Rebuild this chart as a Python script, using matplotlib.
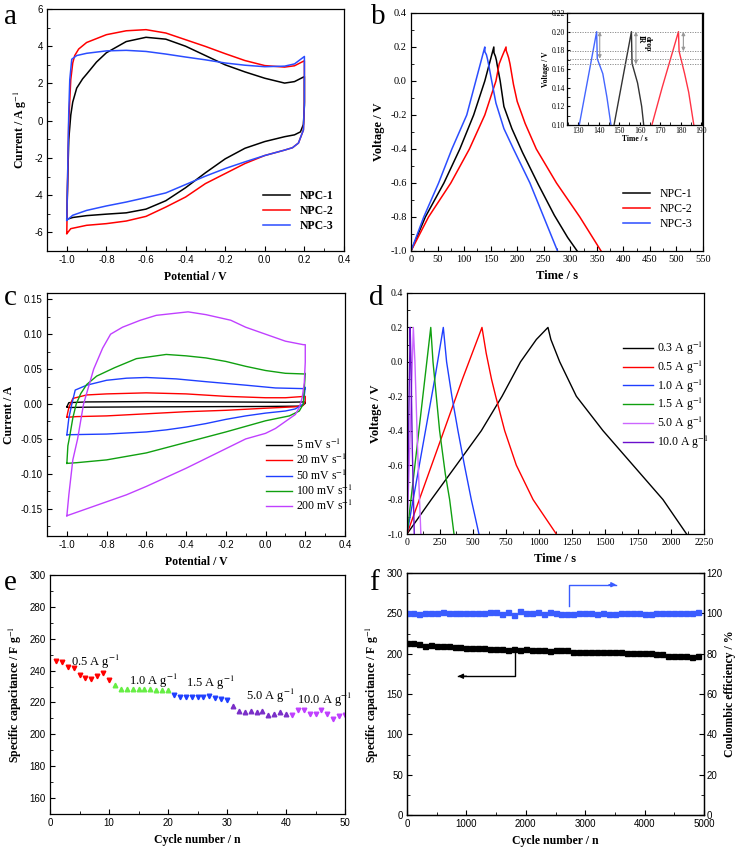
import matplotlib
matplotlib.use("Agg")
import matplotlib.pyplot as plt
from matplotlib.ticker import MultipleLocator, FormatStrFormatter

SERIF = "Liberation Serif"
SANS = "Liberation Sans"

# ---------------- a: CV of NPC-1/2/3 ----------------
npc1_E = [-1.0, -0.995, -0.99, -0.98, -0.97, -0.95, -0.92, -0.9, -0.85, -0.8, -0.7, -0.6, -0.5, -0.4,
          -0.3, -0.2, -0.1, 0.0, 0.1, 0.15, 0.2,
          0.2, 0.195, 0.18, 0.15, 0.1, 0.0, -0.1, -0.2, -0.3, -0.4, -0.5, -0.6, -0.7, -0.8, -0.9, -0.97, -1.0]
npc1_I = [-5.3, -3.0, -1.0, 0.3, 1.0, 1.75, 2.25, 2.5, 3.15, 3.65, 4.25, 4.48, 4.38, 4.0,
          3.5, 3.0, 2.62, 2.28, 2.02, 2.1, 2.37,
          0.8, -0.2, -0.6, -0.76, -0.86, -1.12, -1.48, -2.05, -2.8, -3.6, -4.3, -4.75, -4.95, -5.02, -5.1, -5.2, -5.3]
npc2_E = [-1.0, -0.998, -0.995, -0.99, -0.98, -0.97, -0.96, -0.94, -0.9, -0.8, -0.7, -0.6, -0.5, -0.4,
          -0.3, -0.2, -0.1, 0.0, 0.1, 0.15, 0.2,
          0.2, 0.195, 0.17, 0.14, 0.1, 0.0, -0.1, -0.2, -0.3, -0.4, -0.5, -0.6, -0.7, -0.8, -0.9, -0.98, -1.0]
npc2_I = [-6.05, -4.5, -2.5, 0.0, 2.2, 3.1, 3.5, 3.85, 4.2, 4.62, 4.83, 4.89, 4.71, 4.35,
          3.99, 3.6, 3.23, 2.96, 2.88, 2.95, 3.22,
          1.0, -0.5, -1.2, -1.45, -1.58, -1.87, -2.3, -2.84, -3.38, -4.1, -4.64, -5.14, -5.39, -5.53, -5.62, -5.8, -6.07]
npc3_E = [-1.0, -0.995, -0.99, -0.985, -0.975, -0.95, -0.9, -0.8, -0.7, -0.6, -0.5, -0.4,
          -0.3, -0.2, -0.1, 0.0, 0.1, 0.15, 0.2,
          0.2, 0.195, 0.17, 0.14, 0.1, 0.0, -0.1, -0.2, -0.3, -0.4, -0.5, -0.6, -0.7, -0.8, -0.9, -0.97, -1.0]
npc3_I = [-5.35, -2.5, 0.5, 2.2, 3.3, 3.5, 3.62, 3.75, 3.78, 3.72, 3.58, 3.42,
          3.27, 3.1, 2.98, 2.9, 2.93, 3.05, 3.45,
          1.0, -0.5, -1.2, -1.45, -1.58, -1.87, -2.21, -2.57, -2.98, -3.43, -3.88, -4.13, -4.37, -4.58, -4.82, -5.08, -5.35]

# ---------------- b: GCD of NPC-1/2/3 ----------------
npc1_t = [0, 27, 62, 92, 118, 139, 147.5, 156, 156.3, 159, 161, 162, 168, 175, 190, 210, 240, 270, 295, 313]
npc1_V = [-1.0, -0.8, -0.6, -0.4, -0.2, 0.0, 0.1, 0.2, 0.166, 0.145, 0.12, 0.10, 0.0, -0.15, -0.28, -0.42, -0.61, -0.79, -0.92, -1.0]
npc2_t = [0, 33, 75, 110, 139, 160, 166, 171, 179, 179.3, 182, 184, 186.5, 193, 200, 215, 236, 274, 318, 358]
npc2_V = [-1.0, -0.8, -0.6, -0.4, -0.2, 0.0, 0.1, 0.14, 0.2, 0.179, 0.155, 0.135, 0.10, -0.02, -0.12, -0.25, -0.4, -0.6, -0.8, -1.0]
npc3_t = [0, 24, 52, 77, 105, 122, 130.5, 139, 139.3, 142, 144, 146, 152, 160, 175, 193, 224, 250, 276]
npc3_V = [-1.0, -0.8, -0.6, -0.4, -0.2, 0.0, 0.1, 0.2, 0.171, 0.155, 0.13, 0.10, 0.0, -0.13, -0.28, -0.4, -0.6, -0.8, -1.0]
ir_levels = [0.20, 0.179, 0.171, 0.165]

# ---------------- c: CV at different scan rates ----------------
c_labels = ["5 mV s$^{-1}$", "20 mV s$^{-1}$", "50 mV s$^{-1}$", "100 mV s$^{-1}$", "200 mV s$^{-1}$"]
s5_E = [-1.0, -0.99, -0.9, -0.6, -0.2, 0.1, 0.2, 0.2, 0.18, 0.0, -0.5, -0.9, -0.99, -1.0]
s5_I = [-0.004, 0.002, 0.003, 0.0035, 0.003, 0.0025, 0.003, 0.001, -0.003, -0.0035, -0.004, -0.0045, -0.005, -0.004]
s20_E = [-1.0, -0.99, -0.97, -0.9, -0.8, -0.6, -0.4, -0.2, 0.0, 0.1, 0.2,
         0.2, 0.19, 0.15, 0.0, -0.2, -0.4, -0.6, -0.8, -0.95, -1.0]
s20_I = [-0.018, -0.005, 0.008, 0.013, 0.0145, 0.016, 0.0145, 0.011, 0.009, 0.009, 0.011,
         0.004, -0.002, -0.004, -0.006, -0.009, -0.011, -0.014, -0.017, -0.018, -0.019]
s50_E = [-1.0, -0.99, -0.975, -0.958, -0.9, -0.8, -0.7, -0.6, -0.45, -0.3, -0.1, 0.05, 0.2,
         0.2, 0.19, 0.15, 0.1, 0.0, -0.1, -0.2, -0.3, -0.4, -0.5, -0.6, -0.8, -1.0]
s50_I = [-0.044, -0.02, 0.0, 0.02, 0.027, 0.034, 0.037, 0.038, 0.036, 0.032, 0.027, 0.023, 0.022,
         0.024, 0.0, -0.007, -0.01, -0.013, -0.017, -0.022, -0.028, -0.033, -0.037, -0.04, -0.043, -0.044]
s100_E = [-1.0, -0.995, -0.985, -0.97, -0.953, -0.93, -0.9, -0.85, -0.76, -0.65, -0.5, -0.4, -0.3, -0.2, -0.1,
          0.0, 0.1, 0.2, 0.2, 0.19, 0.17, 0.12, 0.0, -0.2, -0.4, -0.6, -0.8, -0.95, -1.0]
s100_I = [-0.085, -0.06, -0.045, -0.02, 0.0, 0.015, 0.028, 0.04, 0.052, 0.065, 0.071, 0.069, 0.066, 0.061, 0.054,
          0.048, 0.044, 0.043, 0.044, 0.0, -0.01, -0.017, -0.024, -0.040, -0.055, -0.07, -0.08, -0.084, -0.085]
s200_E = [-1.0, -0.99, -0.98, -0.97, -0.946, -0.916, -0.865, -0.82, -0.78, -0.72, -0.63, -0.55, -0.39, -0.3,
          -0.175, -0.1, 0.0, 0.1, 0.19, 0.2,
          0.2, 0.195, 0.185, 0.17, 0.15, 0.1, 0.05, 0.0, -0.1, -0.2, -0.3, -0.4, -0.5, -0.6, -0.7, -0.8, -0.9, -0.97, -1.0]
s200_I = [-0.16, -0.13, -0.105, -0.08, -0.05, 0.0, 0.05, 0.08, 0.1, 0.11, 0.12, 0.127, 0.132, 0.128,
          0.12, 0.11, 0.1, 0.09, 0.085, 0.085,
          0.06, 0.03, 0.01, -0.005, -0.015, -0.025, -0.035, -0.042, -0.05, -0.064, -0.078, -0.092, -0.105, -0.118,
          -0.13, -0.14, -0.15, -0.157, -0.16]

# ---------------- d: GCD at different current densities ----------------
d_labels = ["0.3 A g$^{-1}$", "0.5 A g$^{-1}$", "1.0 A g$^{-1}$", "1.5 A g$^{-1}$", "5.0 A g$^{-1}$", "10.0 A g$^{-1}$"]
j03_t = [0, 184, 374, 563, 720, 860, 980, 1068, 1090, 1157, 1283, 1485, 1712, 1939, 2118]
j03_V = [-1.0, -0.8, -0.6, -0.4, -0.2, 0.0, 0.13, 0.2, 0.13, 0.0, -0.2, -0.4, -0.6, -0.8, -1.0]
j05_t = [0, 140, 280, 420, 568, 600, 640, 672, 740, 828, 955, 1131]
j05_V = [-1.0, -0.7, -0.4, -0.1, 0.2, 0.05, -0.1, -0.2, -0.4, -0.6, -0.8, -1.0]
j10_t = [0, 70, 140, 210, 275, 300, 340, 386, 435, 487, 545]
j10_V = [-1.0, -0.7, -0.4, -0.1, 0.2, 0.0, -0.2, -0.4, -0.6, -0.8, -1.0]
j15_t = [0, 45, 90, 135, 180, 197, 247, 290, 323, 356]
j15_V = [-1.0, -0.7, -0.4, -0.1, 0.2, 0.0, -0.4, -0.65, -0.8, -1.0]
j50_t = [0, 25, 48, 60, 80, 105]
j50_V = [-1.0, -0.4, 0.2, 0.0, -0.5, -1.0]
j100_t = [0, 12, 24, 30, 40, 55]
j100_V = [-1.0, -0.4, 0.2, 0.0, -0.5, -1.0]

# ---------------- e: rate capability ----------------
e_cycle_05 = [1, 2, 3, 4, 5, 6, 7, 8, 9, 10]
e_cap_05 = [246.2, 245.2, 242.1, 241.7, 237.5, 235.2, 234.8, 236.7, 238.6, 234.3]
e_cycle_10 = [11, 12, 13, 14, 15, 16, 17, 18, 19, 20]
e_cap_10 = [230.7, 228.6, 228.2, 228.2, 228.2, 228.2, 228.2, 227.8, 227.8, 227.8]
e_cycle_15 = [21, 22, 23, 24, 25, 26, 27, 28, 29, 30]
e_cap_15 = [224.5, 223.7, 223.5, 223.5, 223.5, 223.5, 223.9, 222.8, 222.4, 221.6]
e_cycle_50 = [31, 32, 33, 34, 35, 36, 37, 38, 39, 40]
e_cap_50 = [217.6, 214.5, 213.9, 214.5, 214.1, 214.5, 211.9, 212.7, 213.9, 212.9]
e_cycle_100 = [41, 42, 43, 44, 45, 46, 47, 48, 49, 50]
e_cap_100 = [212.3, 215.0, 215.0, 212.5, 212.5, 215.0, 212.7, 209.8, 211.3, 212.1]

# ---------------- f: cycling stability ----------------
f_cycle = [1, 100, 200, 300, 400, 500, 600, 700, 800, 900, 1000, 1100, 1200, 1300, 1400, 1500, 1600, 1700,
           1800, 1900, 2000, 2100, 2200, 2300, 2400, 2500, 2600, 2700, 2800, 2900, 3000, 3100, 3200, 3300,
           3400, 3500, 3600, 3700, 3800, 3900, 4000, 4100, 4200, 4300, 4400, 4500, 4600, 4700, 4800, 4900]
f_capacitance = [213.5, 213.0, 211.5, 210.0, 210.5, 210.0, 210.0, 209.0, 208.0, 208.5, 207.0, 207.0, 206.5,
                 207.0, 206.0, 206.0, 206.0, 205.0, 205.5, 204.0, 206.0, 205.0, 204.5, 204.5, 203.0, 204.0,
                 204.0, 204.0, 202.5, 202.5, 202.5, 202.5, 202.5, 202.5, 202.0, 201.5, 202.0, 201.0, 201.0,
                 200.5, 200.5, 200.5, 199.5, 199.5, 197.5, 197.0, 197.0, 197.0, 195.5, 196.5]
f_efficiency = [100.3, 100.2, 99.6, 100.0, 100.0, 100.0, 100.5, 100.0, 100.2, 100.2, 100.0, 100.0, 100.4,
                100.4, 100.5, 100.6, 99.5, 100.5, 99.3, 101.0, 100.0, 100.0, 100.5, 99.6, 100.8, 100.2,
                99.8, 99.7, 99.6, 100.2, 100.2, 100.1, 99.6, 100.4, 99.6, 99.7, 100.4, 100.4, 100.0, 100.0,
                99.9, 99.9, 100.4, 100.4, 100.3, 100.2, 100.2, 100.2, 100.1, 100.7]

plt.rcParams["mathtext.fontset"] = "stix"
plt.rcParams["axes.unicode_minus"] = False
plt.rcParams["xtick.direction"] = "in"
plt.rcParams["ytick.direction"] = "in"
plt.rcParams["xtick.major.size"] = 3.5
plt.rcParams["ytick.major.size"] = 3.5
plt.rcParams["xtick.minor.size"] = 2
plt.rcParams["ytick.minor.size"] = 2
plt.rcParams["axes.linewidth"] = 0.9

W, H = 738, 850
fig = plt.figure(figsize=(W / 100, H / 100), dpi=100)


def box(l, t, r, b):
    return [l / W, 1 - b / H, (r - l) / W, (b - t) / H]


def style(ax, xmaj, xmin, ymaj, ymin, tickfont, size=7):
    ax.xaxis.set_major_locator(MultipleLocator(xmaj))
    ax.xaxis.set_minor_locator(MultipleLocator(xmin))
    ax.yaxis.set_major_locator(MultipleLocator(ymaj))
    ax.yaxis.set_minor_locator(MultipleLocator(ymin))
    for lab in ax.get_xticklabels() + ax.get_yticklabels():
        lab.set_fontfamily(tickfont)
        lab.set_fontsize(size)
    ax.tick_params(axis="both", which="both", pad=3)


def xylabels(ax, xl, yl, size=8.5):
    ax.set_xlabel(xl, fontfamily=SERIF, fontweight="bold", fontsize=size)
    ax.set_ylabel(yl, fontfamily=SERIF, fontweight="bold", fontsize=size)


def letter(x, y, s):
    fig.text(x / W, 1 - y / H, s, fontfamily=SERIF, fontsize=21, va="top", ha="left")


# ---- a
ax = fig.add_axes(box(47, 9, 344, 251))
ax.plot(npc1_E, npc1_I, color="black", lw=1.1, label="NPC-1")
ax.plot(npc2_E, npc2_I, color="#ff0000", lw=1.1, label="NPC-2")
ax.plot(npc3_E, npc3_I, color="#2b4dff", lw=1.1, label="NPC-3")
ax.set_xlim(-1.1, 0.4)
ax.set_ylim(-7, 6)
style(ax, 0.2, 0.1, 2, 1, SANS)
ax.xaxis.set_major_formatter(FormatStrFormatter("%.1f"))
xylabels(ax, "Potential / V", "Current / A g$^{-1}$")
ax.legend(loc="lower right", bbox_to_anchor=(1.0, 0.035), frameon=False, handlelength=2.3,
          labelspacing=0.25, prop={"family": SERIF, "weight": "bold", "size": 8.5})
letter(4, 4, "a")

# ---- b
ax = fig.add_axes(box(411, 13, 703, 251))
ax.plot(npc1_t, npc1_V, color="black", lw=1.1, label="NPC-1")
ax.plot(npc2_t, npc2_V, color="#ff0000", lw=1.1, label="NPC-2")
ax.plot(npc3_t, npc3_V, color="#2b4dff", lw=1.1, label="NPC-3")
ax.set_xlim(0, 550)
ax.set_ylim(-1.0, 0.4)
style(ax, 50, 25, 0.2, 0.1, SERIF, 7.5)
ax.yaxis.set_major_formatter(FormatStrFormatter("%.1f"))
xylabels(ax, "Time / s", "Voltage / V", 9)
ax.legend(loc="lower left", bbox_to_anchor=(0.69, 0.045), frameon=False, handlelength=2.3,
          labelspacing=0.25, prop={"family": SERIF, "size": 8.5})
letter(371, 4, "b")

ins = fig.add_axes(box(567, 13, 702, 125))
ins.plot(npc1_t, npc1_V, color="#333333", lw=1.0)
ins.plot(npc2_t, npc2_V, color="#ff3344", lw=1.0)
ins.plot(npc3_t, npc3_V, color="#4466ff", lw=1.0)
for lv in ir_levels:
    ins.axhline(lv, color="gray", lw=0.6, ls=(0, (1.5, 1.5)))
for xa, ya in [(140.5, 0.171), (158.2, 0.165), (181.4, 0.179)]:
    ins.annotate("", xy=(xa, ya), xytext=(xa, 0.20),
                 arrowprops=dict(arrowstyle="<|-|>", color="#999999", lw=0.8,
                                 mutation_scale=5, shrinkA=0, shrinkB=0))
ins.text(160.6, 0.192, "IR", rotation=-90, fontsize=5.5, fontfamily=SERIF, fontweight="bold",
         ha="center", va="center")
ins.text(164.2, 0.187, "drop", rotation=-90, fontsize=5.5, fontfamily=SERIF, fontweight="bold",
         ha="center", va="center")
ins.set_xlim(124.5, 190.5)
ins.set_ylim(0.10, 0.22)
style(ins, 10, 5, 0.02, 0.01, SERIF, 5.5)
ins.yaxis.set_major_formatter(FormatStrFormatter("%.2f"))
ins.tick_params(axis="both", which="both", pad=1.5, length=2)
ins.set_xlabel("Time / s", fontsize=5.5, fontfamily=SERIF, fontweight="bold", labelpad=0)
ins.set_ylabel("Voltage / V", fontsize=5.5, fontfamily=SERIF, fontweight="bold", labelpad=1)

# ---- c
ax = fig.add_axes(box(47, 293, 345, 536))
c_colors = ["black", "#ff0000", "#1f3fff", "#10a010", "#c040ff"]
for E, I, col, lab in zip([s5_E, s20_E, s50_E, s100_E, s200_E], [s5_I, s20_I, s50_I, s100_I, s200_I],
                          c_colors, c_labels):
    ax.plot(E, I, color=col, lw=1.0, label=lab)
ax.set_xlim(-1.1, 0.4)
ax.set_ylim(-0.189, 0.159)
style(ax, 0.2, 0.1, 0.05, 0.025, SANS)
ax.xaxis.set_major_formatter(FormatStrFormatter("%.1f"))
ax.yaxis.set_major_formatter(FormatStrFormatter("%.2f"))
xylabels(ax, "Potential / V", "Current / A")
ax.legend(loc="lower left", bbox_to_anchor=(0.70, 0.05), frameon=False, handlelength=2.2,
          labelspacing=0.08, handletextpad=0.3, prop={"family": SERIF, "size": 8.5})
letter(4, 285, "c")

# ---- d
ax = fig.add_axes(box(407, 293, 704, 534))
d_colors = ["black", "#ff0000", "#1f3fff", "#10a010", "#cc66ff", "#6a0fcc"]
for t, V, col, lab in zip([j03_t, j05_t, j10_t, j15_t, j50_t, j100_t],
                          [j03_V, j05_V, j10_V, j15_V, j50_V, j100_V], d_colors, d_labels):
    ax.plot(t, V, color=col, lw=1.0, label=lab)
ax.set_xlim(0, 2250)
ax.set_ylim(-1.0, 0.4)
style(ax, 250, 125, 0.2, 0.1, SERIF, 7)
ax.yaxis.set_major_formatter(FormatStrFormatter("%.1f"))
xylabels(ax, "Time / s", "Voltage / V", 9)
ax.legend(loc="upper left", bbox_to_anchor=(0.69, 0.85), frameon=False, handlelength=2.6,
          labelspacing=0.12, handletextpad=0.3, prop={"family": SERIF, "size": 8.5})
letter(369, 285, "d")

# ---- e
ax = fig.add_axes(box(50, 575, 345, 814))
ax.plot(e_cycle_05, e_cap_05, "v", color="#ff0000", ms=3.3, ls="none")
ax.plot(e_cycle_10, e_cap_10, "^", color="#66ee44", ms=3.3, ls="none")
ax.plot(e_cycle_15, e_cap_15, "v", color="#1f3fff", ms=3.3, ls="none")
ax.plot(e_cycle_50, e_cap_50, "^", color="#7a2fc8", ms=3.3, ls="none")
ax.plot(e_cycle_100, e_cap_100, "v", color="#c040ff", ms=3.3, ls="none")
ax.set_xlim(0, 50)
ax.set_ylim(150, 300)
style(ax, 10, 5, 20, 10, SANS)
xylabels(ax, "Cycle number / n", "Specific capacitance / F g$^{-1}$")
for xt, yt, s in [(3.5, 245.5, "0.5 A g$^{-1}$"), (13.4, 233.8, "1.0 A g$^{-1}$"),
                  (23.0, 232.2, "1.5 A g$^{-1}$"), (33.3, 223.9, "5.0 A g$^{-1}$"),
                  (41.8, 221.8, "10.0 A g$^{-1}$")]:
    ax.text(xt, yt, s, fontfamily=SERIF, fontsize=9, ha="left", va="center")
letter(4, 570, "e")

# ---- f
ax = fig.add_axes(box(407, 573, 704, 815))
ax.plot(f_cycle, f_capacitance, "s", color="black", ms=3.6, ls="none")
ax.set_xlim(0, 5000)
ax.set_ylim(0, 300)
style(ax, 1000, 500, 50, 25, SANS)
xylabels(ax, "Cycle number / n", "Specific capacitance / F g$^{-1}$")
ax.plot([1812, 1812, 858], [203, 172, 172], color="black", lw=1.0)
ax.annotate("", xy=(858, 172), xytext=(1000, 172),
            arrowprops=dict(arrowstyle="-|>", color="black", lw=1.0, mutation_scale=7,
                            shrinkA=0, shrinkB=0))
ax2 = ax.twinx()
ax2.plot(f_cycle, f_efficiency, "s", color="#3a5cff", ms=3.6, ls="none")
ax2.set_ylim(0, 120)
ax2.yaxis.set_major_locator(MultipleLocator(20))
ax2.yaxis.set_minor_locator(MultipleLocator(10))
ax2.tick_params(axis="y", which="both", pad=2)
for lab in ax2.get_yticklabels():
    lab.set_fontfamily(SANS)
    lab.set_fontsize(7)
ax2.set_ylabel("Coulombic efficiency / %", fontfamily=SERIF, fontweight="bold", fontsize=8.5,
               labelpad=1)
ax2.plot([2727, 2727, 3524], [103.4, 114.2, 114.2], color="#3a5cff", lw=1.0)
ax2.annotate("", xy=(3524, 114.2), xytext=(3400, 114.2),
             arrowprops=dict(arrowstyle="-|>", color="#3a5cff", lw=1.0, mutation_scale=7,
                             shrinkA=0, shrinkB=0))
letter(369, 570, "f")

fig.savefig("out.png", dpi=100, facecolor="white")
